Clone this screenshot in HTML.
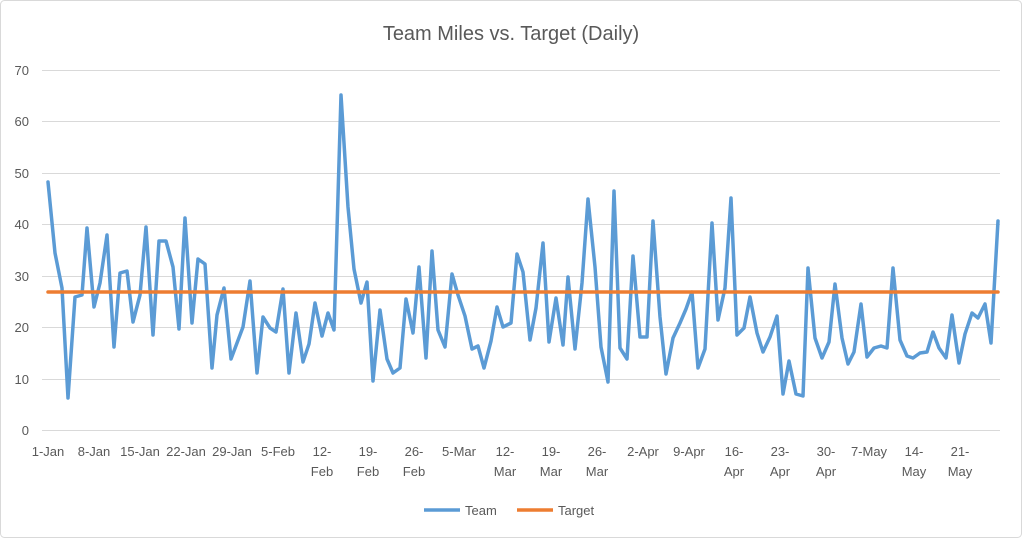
<!DOCTYPE html>
<html><head><meta charset="utf-8"><style>
body{margin:0;background:#fff}
svg{display:block;font-family:"Liberation Sans",sans-serif}
</style></head><body>
<svg width="1022" height="538" viewBox="0 0 1022 538">
<rect x="0.5" y="0.5" width="1021" height="537" rx="4" fill="#fff" stroke="#d9d9d9"/>
<text x="511" y="40" text-anchor="middle" font-size="20" fill="#595959">Team Miles vs. Target (Daily)</text>
<g stroke="#d9d9d9" stroke-width="1">
<line x1="42" x2="1000" y1="70.5" y2="70.5"/><line x1="42" x2="1000" y1="121.5" y2="121.5"/>
<line x1="42" x2="1000" y1="173.5" y2="173.5"/><line x1="42" x2="1000" y1="224.5" y2="224.5"/>
<line x1="42" x2="1000" y1="276.5" y2="276.5"/><line x1="42" x2="1000" y1="327.5" y2="327.5"/>
<line x1="42" x2="1000" y1="379.5" y2="379.5"/><line x1="42" x2="1000" y1="430.5" y2="430.5"/>
</g>
<g font-size="13" fill="#595959" text-anchor="end">
<text x="29" y="75">70</text><text x="29" y="126">60</text><text x="29" y="178">50</text><text x="29" y="229">40</text>
<text x="29" y="281">30</text><text x="29" y="332">20</text><text x="29" y="384">10</text><text x="29" y="435">0</text>
</g>
<g font-size="13" fill="#595959" text-anchor="middle">
<text x="48" y="456">1-Jan</text><text x="94" y="456">8-Jan</text><text x="140" y="456">15-Jan</text>
<text x="186" y="456">22-Jan</text><text x="232" y="456">29-Jan</text><text x="278" y="456">5-Feb</text>
<text x="322" y="456">12-</text><text x="322" y="476">Feb</text>
<text x="368" y="456">19-</text><text x="368" y="476">Feb</text>
<text x="414" y="456">26-</text><text x="414" y="476">Feb</text>
<text x="459" y="456">5-Mar</text>
<text x="505" y="456">12-</text><text x="505" y="476">Mar</text>
<text x="551" y="456">19-</text><text x="551" y="476">Mar</text>
<text x="597" y="456">26-</text><text x="597" y="476">Mar</text>
<text x="643" y="456">2-Apr</text><text x="689" y="456">9-Apr</text>
<text x="734" y="456">16-</text><text x="734" y="476">Apr</text>
<text x="780" y="456">23-</text><text x="780" y="476">Apr</text>
<text x="826" y="456">30-</text><text x="826" y="476">Apr</text>
<text x="869" y="456">7-May</text>
<text x="914" y="456">14-</text><text x="914" y="476">May</text>
<text x="960" y="456">21-</text><text x="960" y="476">May</text>
</g>
<polyline fill="none" stroke="#5b9bd5" stroke-width="3.5" stroke-linejoin="round" stroke-linecap="round" points="48,182 55,253 62,288 68,398 75,297 82,295 87,228 94,307 100,283 107,235 114,347 120,273 127,271 133,322 140,295 146,227 153,335 159,241 166,241 173,267 179,329 185,218 192,323 198,259 205,264 212,368 217,315 224,288 231,359 237,343 243,327 250,281 257,373 263,317 270,328 276,332 283,289 289,373 296,313 303,362 309,344 315,303 322,336 328,313 334,330 341,95 348,207 354,269 361,303 367,282 373,381 380,310 387,359 393,373 400,368 406,299 413,333 419,267 426,358 432,251 438,330 445,347 452,274 458,295 465,316 472,349 478,346 484,368 491,341 497,307 503,327 511,323 517,254 523,272 530,340 536,308 543,243 549,342 556,298 563,345 568,277 575,349 582,283 588,199 595,267 601,347 608,382 614,191 620,348 627,359 633,256 640,337 647,337 653,221 660,317 666,374 673,338 680,323 686,309 692,292 698,368 705,349 712,223 718,320 725,288 731,198 737,335 744,328 750,297 757,333 763,352 770,337 777,316 783,394 789,361 796,394 803,396 808,268 815,338 822,358 829,342 835,284 842,338 848,364 854,352 861,304 867,357 874,348 881,346 887,348 893,268 900,340 907,356 913,358 920,353 927,352 933,332 939,348 946,358 952,315 959,363 965,334 972,313 978,318 985,304 991,343 998,221"/>
<line x1="48" x2="998" y1="292" y2="292" stroke="#ed7d31" stroke-width="3.5" stroke-linecap="round"/>
<line x1="424" x2="460" y1="510" y2="510" stroke="#5b9bd5" stroke-width="3.5"/>
<text x="465" y="515" font-size="13" fill="#595959">Team</text>
<line x1="517" x2="553" y1="510" y2="510" stroke="#ed7d31" stroke-width="3.5"/>
<text x="558" y="515" font-size="13" fill="#595959">Target</text>
</svg>
</body></html>
